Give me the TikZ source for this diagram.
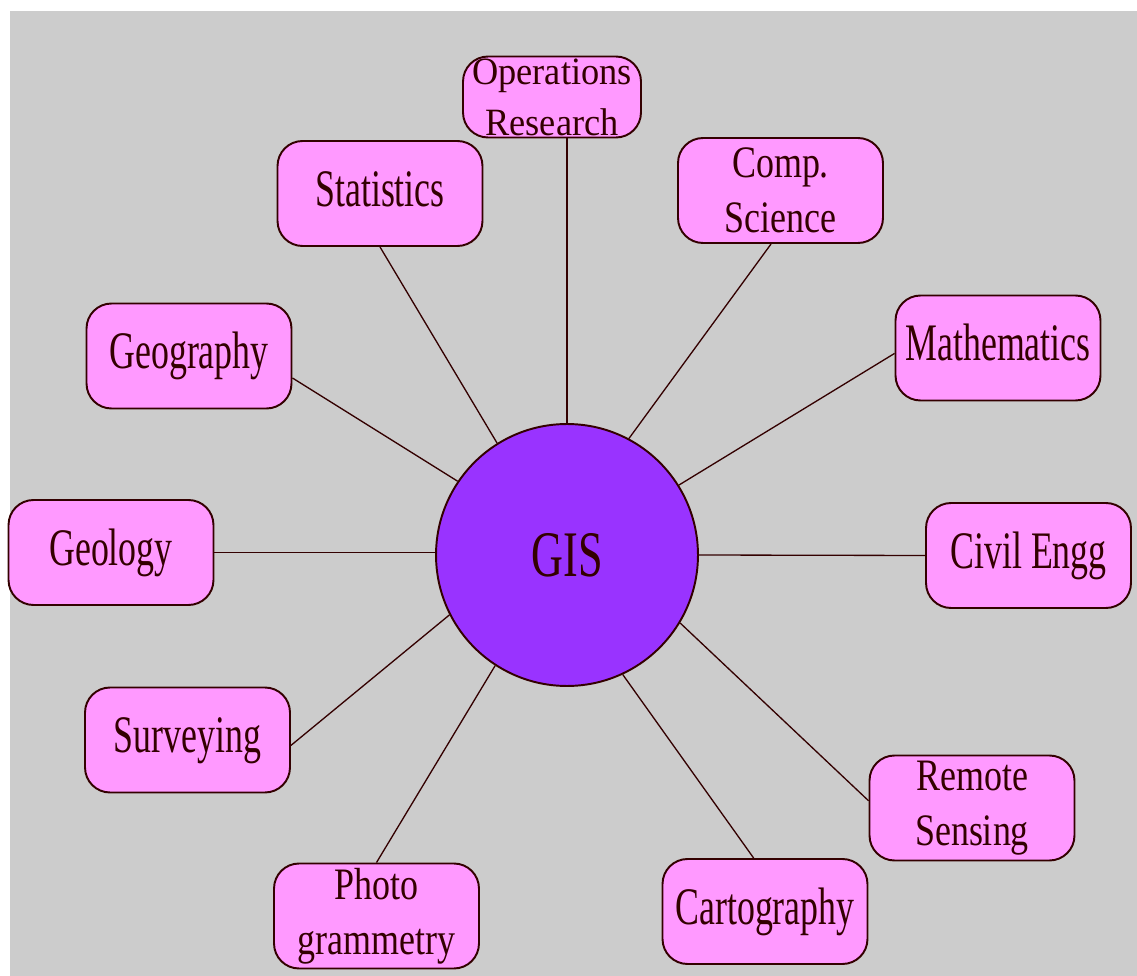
\documentclass[tikz,border=0pt]{standalone}
\usepackage{fontspec}
\usepackage{xcolor}
\usepackage{tikz}
\setmainfont{Liberation Serif}
\newfontfamily\onefont{Liberation Serif}[FakeStretch=0.68]
\newfontfamily\twofont{Liberation Serif}[FakeStretch=0.8]
\newfontfamily\orfont{Liberation Serif}[FakeStretch=0.94]

\definecolor{bggray}{HTML}{CCCCCC}
\definecolor{boxpink}{HTML}{FF99FF}
\definecolor{gispurple}{HTML}{9933FF}
\definecolor{edge}{HTML}{330000}

\begin{document}
\begin{tikzpicture}[x=0.02cm, y=-0.02cm,
    field/.style={rectangle, rounded corners=0.5cm, draw=edge, fill=boxpink, line width=1.1pt,
      inner sep=0pt, minimum width=4.1cm, minimum height=2.1cm, text=edge, align=center},
    oneline/.style={field, font=\onefont\fontsize{30}{32}\selectfont, text height=0.8cm, text depth=0.28cm},
    twoline/.style={field, font=\twofont\fontsize{25.6}{31.3}\selectfont},
    link/.style={draw=edge, line width=0.75pt}]
    \useasboundingbox (0,0) rectangle (1137,976);
    \fill[white] (0,0) rectangle (1137,976);
    \fill[bggray] (10,11) rectangle (1137,976);

    % centre
    \node[circle, draw=edge, fill=gispurple, line width=1.1pt, minimum size=5.24cm, inner sep=0pt,
      text=edge, font=\onefont\fontsize{37}{40}\selectfont] at (567,555) (gis) {GIS};

    % disciplines around it
    \node[twoline, font=\orfont\fontsize{22}{29}\selectfont, minimum width=3.56cm, minimum height=1.62cm]
      at (552,97) (opres) {Operations\\Research};
    \node[oneline] at (380,193.5) (stat) {Statistics};
    \node[twoline] at (780.5,190.5) (comp) {Comp.\\Science};
    \node[oneline] at (189,356) (geog) {Geography};
    \node[oneline] at (998,348) (math) {Mathematics};
    \node[oneline] at (111,552.5) (geol) {Geology};
    \node[oneline] at (1028.5,555.5) (civ) {Civil Engg};
    \node[oneline] at (187.5,740) (surv) {Surveying};
    \node[twoline] at (972,808) (rs) {Remote\\Sensing};
    \node[oneline] at (765,911.5) (carto) {Cartography};
    \node[twoline] at (376.5,916) (photo) {Photo\\grammetry};

    % spokes
    \draw[link] (gis.north) -- (gis.north |- opres.south);
    \draw[link] (gis.122) -- (stat.south);
    \draw[link] (gis.62) -- (comp.260);
    \draw[link] (gis.146.7) -- (geog.-12);
    \draw[link] (gis.32) -- (math.183);
    \draw[link] (geol.east) -- (geol.east -| gis.west);
    \draw[link] (gis.east) -- (civ.west);
    \draw[link] (gis.207) -- (surv.-3);
    \draw[link] (gis.-31) -- (rs.176);
    \draw[link] (gis.-65) -- (carto.102);
    \draw[link] (gis.237) -- (photo.north);
\end{tikzpicture}
\end{document}
